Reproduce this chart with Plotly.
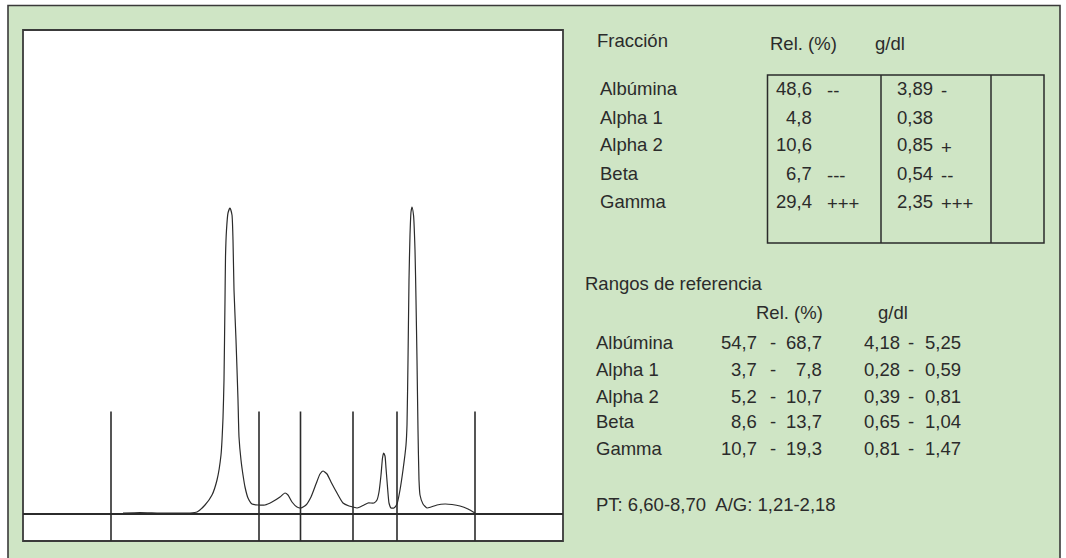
import plotly.graph_objects as go

# ---------------- data ----------------
# densitometry curve: mobility (arbitrary units) vs optical density (arbitrary units)
curve_x = [100, 117, 137, 167, 174, 182, 189, 194, 198, 200, 201, 202, 202.5, 203.5, 205, 207,
           209, 210, 211, 213, 215, 216, 218, 220, 222, 225, 229, 235, 242, 249, 257, 262,
           265, 269, 274, 278, 283, 288, 293, 297, 300, 304, 308, 314, 320, 326, 330, 334,
           337, 341, 345, 351, 354, 356, 358, 359.5, 360.5, 362, 363, 364.5, 366, 368, 371,
           374, 377, 380, 383, 384, 385, 386, 387, 388, 389, 390.5, 392, 393, 394, 395, 396,
           397, 400, 404, 408, 414, 422, 429, 437, 445, 452]
curve_y = [1, 1.5, 1, 1, 2, 9, 19, 34, 59, 96, 134, 214, 257, 284, 301, 306,
           299, 274, 224, 174, 114, 77, 54, 39, 27, 16, 10, 9, 9, 12, 17, 21,
           19, 12, 7, 6, 9, 17, 30, 40, 43, 40, 32, 21, 11, 8, 7, 6,
           7, 9, 11, 11, 14, 22, 39, 56, 61, 58, 46, 27, 11, 6, 6,
           10, 24, 44, 69, 89, 154, 234, 279, 302, 307, 299, 264, 214, 154, 84, 34,
           19, 10, 6, 7, 9, 10, 9.5, 8, 5, 1]

# fraction boundaries (same mobility units)
boundaries = [88, 236, 277.5, 330, 374, 452]
boundary_top = 102.5
y_min, y_max = -27, 484
x_min, x_max = 0, 540

# result table
fractions = ["Albúmina", "Alpha 1", "Alpha 2", "Beta", "Gamma"]
rel_pct = ["48,6", "4,8", "10,6", "6,7", "29,4"]
rel_flag = ["--", "", "", "---", "+++"]
gdl = ["3,89", "0,38", "0,85", "0,54", "2,35"]
gdl_flag = ["-", "", "+", "--", "+++"]

# reference ranges
ref_rel_lo = ["54,7", "3,7", "5,2", "8,6", "10,7"]
ref_rel_hi = ["68,7", "7,8", "10,7", "13,7", "19,3"]
ref_gdl_lo = ["4,18", "0,28", "0,39", "0,65", "0,81"]
ref_gdl_hi = ["5,25", "0,59", "0,81", "1,04", "1,47"]
footer = "PT: 6,60-8,70  A/G: 1,21-2,18"

# ---------------- layout helpers ----------------
W, H = 1066, 558
GREEN = "#cfe5c5"
INK = "#2b2b2b"
FONT = "Liberation Sans, Arial, Helvetica, sans-serif"
FS = 18.5


def px(x):
    return x / W


def py(y):
    return (H - y) / H


fig = go.Figure()

# curve
fig.add_trace(go.Scatter(x=curve_x, y=curve_y, mode="lines",
                         line=dict(color=INK, width=1.2, shape="spline", smoothing=0.5),
                         hoverinfo="skip", showlegend=False))

# boundaries
bx, by = [], []
for b in boundaries:
    bx += [b, b, None]
    by += [y_min, boundary_top, None]
fig.add_trace(go.Scatter(x=bx, y=by, mode="lines",
                         line=dict(color=INK, width=1.6),
                         hoverinfo="skip", showlegend=False))

shapes = []
# outer green panel
shapes.append(dict(type="rect", xref="paper", yref="paper", layer="below",
                   x0=px(8), x1=px(1060), y0=py(575), y1=py(5.5),
                   fillcolor=GREEN, line=dict(color="#3a3a3a", width=1.6)))
# white densitogram panel
shapes.append(dict(type="rect", xref="paper", yref="paper", layer="below",
                   x0=px(23), x1=px(563), y0=py(541), y1=py(30),
                   fillcolor="white", line=dict(color="#3a3a3a", width=1.8)))
# result table box
tb_l, tb_r, tb_t, tb_b = 767.5, 1044, 75, 243
shapes.append(dict(type="rect", xref="paper", yref="paper",
                   x0=px(tb_l), x1=px(tb_r), y0=py(tb_b), y1=py(tb_t),
                   line=dict(color=INK, width=1.5)))
for xv in (881, 991):
    shapes.append(dict(type="line", xref="paper", yref="paper",
                       x0=px(xv), x1=px(xv), y0=py(tb_b), y1=py(tb_t),
                       line=dict(color=INK, width=1.5)))

annotations = []


def txt(t, x, y, anchor="left"):
    annotations.append(dict(text=t, x=px(x), y=py(y), xref="paper", yref="paper",
                            xanchor=anchor, yanchor="middle", showarrow=False,
                            font=dict(family=FONT, size=FS, color=INK)))


# header section 1
txt("Fracción", 595, 41)
txt("Rel. (%)", 768, 43.5)
txt("g/dl", 873, 44)
rows1 = [88.5, 117, 145, 173, 201.3]
for i, f in enumerate(fractions):
    y = rows1[i]
    txt(f, 598, y)
    txt(rel_pct[i], 813.5, y, "right")
    if rel_flag[i]:
        txt(rel_flag[i], 825, y + 2)
    txt(gdl[i], 895, y)
    if gdl_flag[i]:
        txt(gdl_flag[i], 939, y + 2)

# section 2
txt("Rangos de referencia", 582.5, 283)
txt("Rel. (%)", 754, 312.3)
txt("g/dl", 876, 312.3)
rows2 = [342.7, 370, 396, 421.7, 448.3]
for i, f in enumerate(fractions):
    y = rows2[i]
    txt(f, 593.5, y)
    txt(ref_rel_lo[i], 759, y, "right")
    txt("-", 772.5, y, "center")
    txt(ref_rel_hi[i], 824, y, "right")
    txt(ref_gdl_lo[i], 861.5, y)
    txt("-", 911, y, "center")
    txt(ref_gdl_hi[i], 923, y)

txt(footer, 593.5, 504.5)

fig.update_layout(
    width=W, height=H,
    margin=dict(l=0, r=0, t=0, b=0),
    paper_bgcolor="white",
    plot_bgcolor="rgba(0,0,0,0)",
    shapes=shapes,
    annotations=annotations,
    showlegend=False,
    xaxis=dict(domain=[px(23), px(563)], range=[x_min, x_max], visible=False, fixedrange=True),
    yaxis=dict(domain=[py(541), py(30)], range=[y_min, y_max], showgrid=False,
               showticklabels=False, ticks="", showline=False,
               zeroline=True, zerolinecolor=INK, zerolinewidth=1.6, fixedrange=True),
)

fig.write_html("out.html", config={"displayModeBar": False},
               post_script="document.body.style.margin='0px';document.body.style.overflow='hidden';")
